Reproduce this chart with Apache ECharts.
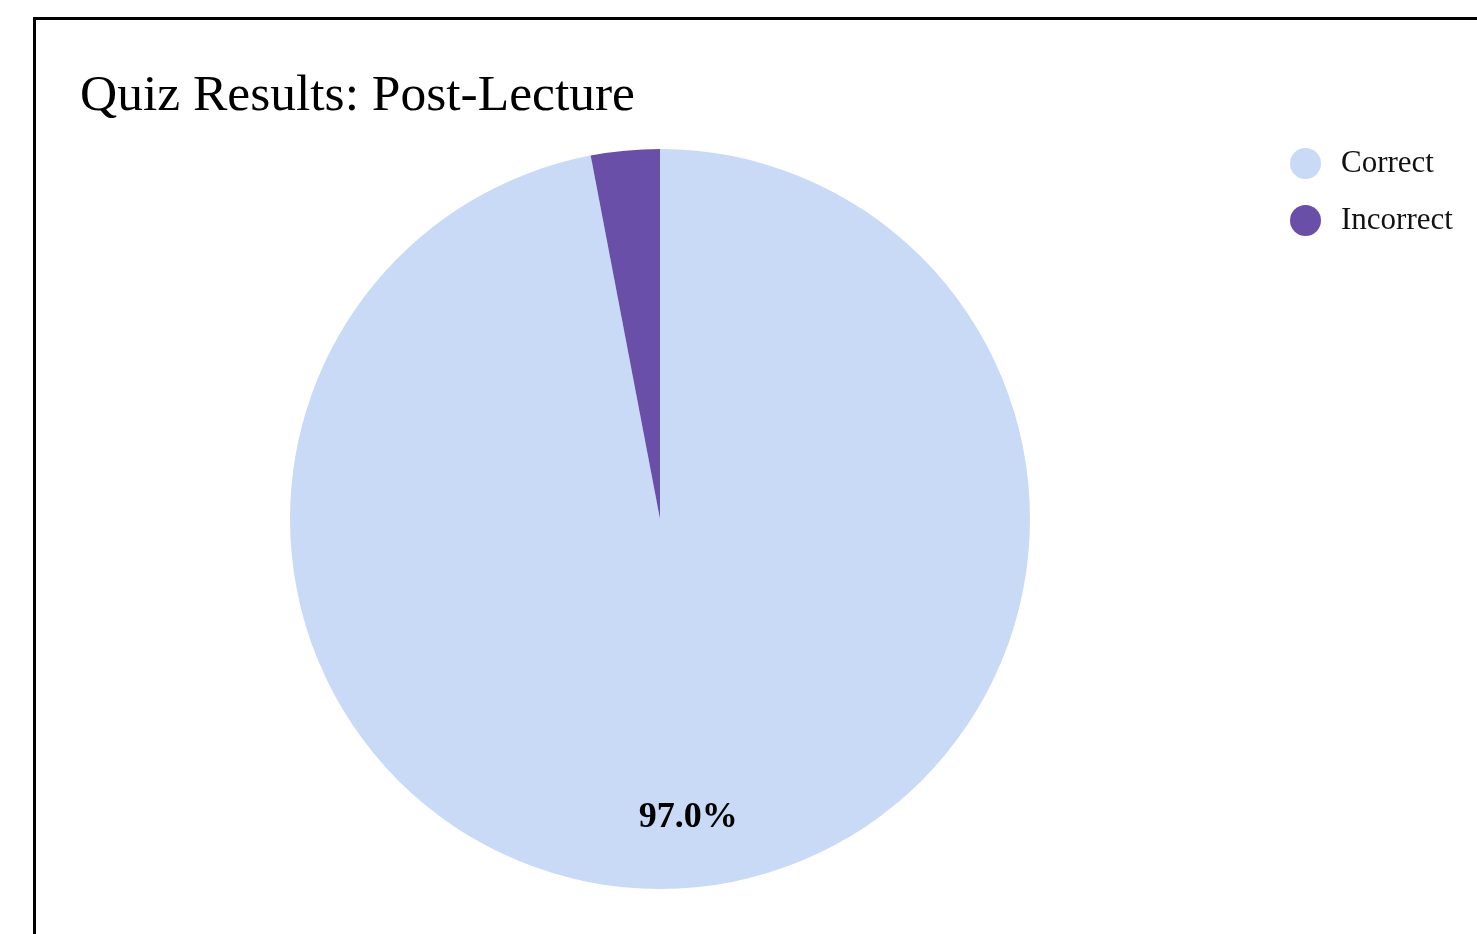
<!DOCTYPE html>
<html>
<head>
<meta charset="utf-8">
<script src="https://cdn.jsdelivr.net/npm/echarts@6/dist/echarts.min.js"></script>
<style>
  html, body { margin: 0; padding: 0; background: #fff; overflow: hidden; width: 1477px; height: 934px; }
  #frame { position: absolute; left: 33px; top: 17px; width: 1600px; height: 1100px; border: 3px solid #000; box-sizing: content-box; }
  #chart { position: absolute; left: 0; top: 0; width: 1441px; height: 914px; }
</style>
</head>
<body>
<div id="frame"><div id="chart"></div></div>
<script>
const titleText = "Quiz Results: Post-Lecture";
const categories = ["Correct", "Incorrect"];
const values = [97, 3];
const colors = ["#c8daf6", "#6a4fa8"];
const labelShown = [true, false];

const chart = echarts.init(document.getElementById('chart'), null, { renderer: 'canvas' });
const fontFam = '"Liberation Serif", "Times New Roman", serif';

const baseData = categories.map((c, i) => ({ name: c, value: values[i], itemStyle: { color: colors[i] } }));
const labelData = categories.map((c, i) => ({ name: c, value: values[i], label: { show: labelShown[i] } }));

chart.setOption({
  animation: false,
  title: {
    text: titleText,
    left: 39,
    top: 45,
    textStyle: { fontFamily: fontFam, fontSize: 51.5, fontWeight: 'normal', color: '#000' }
  },
  legend: {
    orient: 'vertical',
    left: 1249,
    top: 123,
    icon: 'circle',
    itemWidth: 31,
    itemHeight: 31,
    itemGap: 26,
    data: categories.map((c, i) => ({ name: c, itemStyle: { color: colors[i] } })),
    textStyle: { fontFamily: fontFam, fontSize: 31, color: '#111', padding: [0, 0, 0, 15] }
  },
  series: [
    {
      type: 'pie',
      center: [624, 499],
      radius: [0, 370],
      startAngle: 90,
      clockwise: true,
      label: { show: false },
      labelLine: { show: false },
      emphasis: { disabled: true },
      itemStyle: { borderWidth: 0 },
      data: baseData
    },
    {
      type: 'pie',
      center: [624, 499],
      radius: [224, 370],
      startAngle: 90,
      clockwise: true,
      silent: true,
      itemStyle: { color: 'rgba(0,0,0,0)', borderWidth: 0 },
      label: {
        show: true,
        position: 'inside',
        formatter: p => p.percent.toFixed(1) + '%',
        fontFamily: fontFam,
        fontSize: 36,
        fontWeight: 'bold',
        color: '#000'
      },
      labelLine: { show: false },
      emphasis: { disabled: true },
      data: labelData
    }
  ]
});
</script>
</body>
</html>
